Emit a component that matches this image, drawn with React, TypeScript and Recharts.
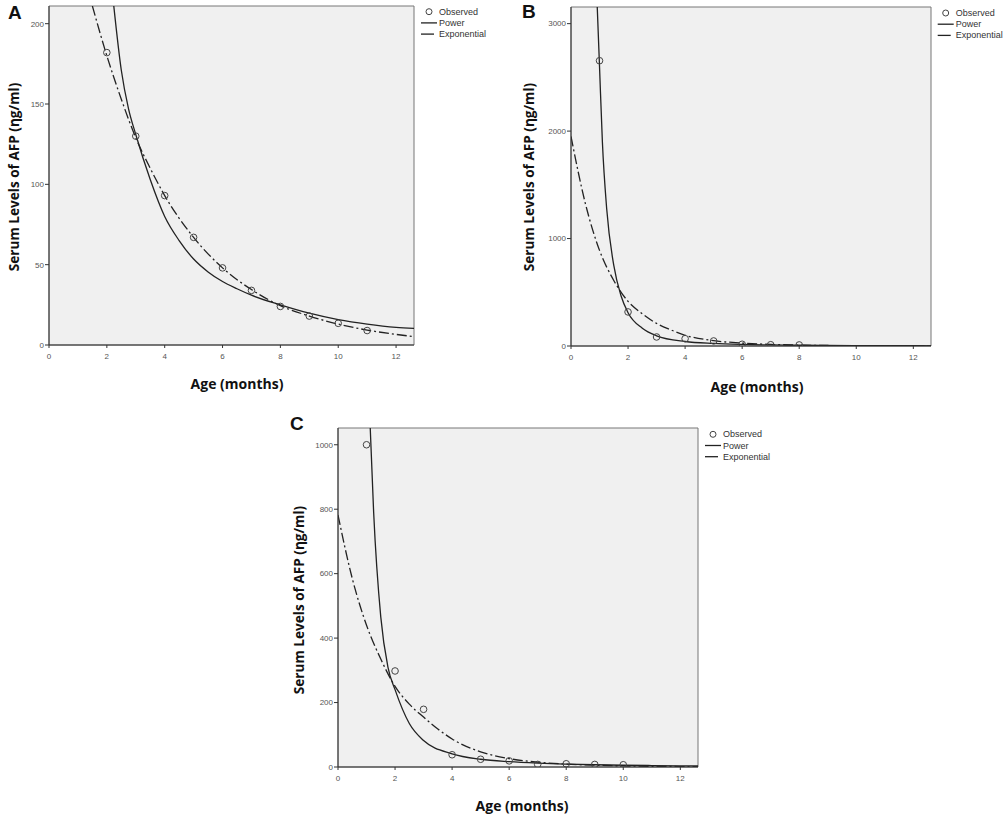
import React from 'react';
import { ComposedChart, Line, Scatter, XAxis, YAxis, CartesianGrid, ReferenceArea } from 'recharts';

// Panel A
const obsAgeA = [2, 3, 4, 5, 6, 7, 8, 9, 10, 11];
const obsAfpA = [182, 130, 93, 67, 48, 34, 24, 18, 13.5, 9];
const powAgeA = [2.24, 2.5, 2.75, 3, 3.5, 4, 4.5, 5, 5.5, 6, 6.5, 7, 8, 9, 10, 11, 12, 12.62];
const powAfpA = [211, 171, 147, 131, 103, 80, 65, 53.5, 45.5, 39.5, 35, 31, 25, 19.8, 15.8, 13, 11, 10.3];
const expAgeA = [1.5, 2, 2.5, 3, 3.5, 4, 5, 6, 7, 8, 9, 10, 11, 12, 12.62];
const expAfpA = [211, 180, 153, 129, 110, 93, 67, 48, 34.5, 24.5, 18, 13, 9.3, 6.6, 5.2];

// Panel B
const obsAgeB = [1, 2, 3, 4, 5, 6, 7, 8];
const obsAfpB = [2655, 317, 84, 68, 47, 16, 12, 10];
const powAgeB = [0.92, 1, 1.1, 1.25, 1.5, 1.75, 2, 2.5, 3, 4, 5, 6, 7, 8, 10, 12, 12.62];
const powAfpB = [3155, 2600, 1900, 1280, 750, 470, 310, 165, 95, 42, 24, 15, 10, 7, 4, 2.5, 2];
const expAgeB = [0, 0.5, 1, 1.5, 2, 2.5, 3, 3.5, 4, 5, 6, 7, 8, 9, 10, 11, 12, 12.62];
const expAfpB = [1950, 1330, 890, 610, 415, 300, 210, 150, 100, 50, 27, 15, 8, 4.5, 2.5, 1.5, 1, 0.7];

// Panel C
const obsAgeC = [1, 2, 3, 4, 5, 6, 7, 8, 9, 10];
const obsAfpC = [1000, 298, 179, 38, 24, 19, 8, 10, 8, 7];
const powAgeC = [1.13, 1.25, 1.5, 1.75, 2, 2.5, 3, 4, 5, 6, 7, 8, 9, 10, 11, 12, 12.62];
const powAfpC = [1052, 790, 465, 310, 240, 135, 82, 41, 24, 16.5, 12, 9, 7, 5.5, 4.5, 3.7, 3.3];
const expAgeC = [0, 0.5, 1, 1.5, 2, 2.5, 3, 3.5, 4, 5, 6, 7, 8, 9, 10, 11, 12, 12.62];
const expAfpC = [782, 585, 440, 335, 250, 195, 155, 118, 87, 47, 26, 15, 9, 5.5, 3.5, 2.2, 1.4, 1.1];

const ageTicks = [0, 2, 4, 6, 8, 10, 12];
const ticksA = [0, 50, 100, 150, 200];
const ticksB = [0, 1000, 2000, 3000];
const ticksC = [0, 200, 400, 600, 800, 1000];

const X_MAX = 12.62;
const tickFont = { fontSize: 8, fill: '#555', fontFamily: 'Liberation Sans, Arial, sans-serif' };
const titleFont = 'Open Sans, sans-serif';

const pts = (xs: number[], ys: number[]) => xs.map((x, i) => ({ x, y: ys[i] }));

const OpenCircle = (props: any) => (
  <circle cx={props.cx} cy={props.cy} r={3.3} fill="none" stroke="#444" strokeWidth={1} />
);

function Panel({ left, top, width, height, margin, yWidth, yMax, yTicks, obs, pow, exp }: any) {
  return (
    <div style={{ position: 'absolute', left, top }}>
      <ComposedChart width={width} height={height} margin={margin}>
        <CartesianGrid horizontal={false} vertical={false} fill="#f0f0f0" />
        <XAxis
          type="number"
          dataKey="x"
          domain={[0, X_MAX]}
          ticks={ageTicks}
          allowDataOverflow
          height={30}
          tickSize={3}
          tickMargin={5}
          tick={tickFont}
          stroke="#333"
        />
        <YAxis
          type="number"
          dataKey="y"
          domain={[0, yMax]}
          ticks={yTicks}
          allowDataOverflow
          width={yWidth}
          tickSize={4}
          tickMargin={1}
          tick={tickFont}
          stroke="#333"
        />
        <ReferenceArea x1={0} x2={X_MAX} y1={0} y2={yMax} fill="none" stroke="#777" strokeWidth={1} />
        <Line data={pow} dataKey="y" type="monotone" dot={false} stroke="#222" strokeWidth={1.3} isAnimationActive={false} />
        <Line data={exp} dataKey="y" type="monotone" dot={false} stroke="#222" strokeWidth={1.3} strokeDasharray="10 3 2 3" isAnimationActive={false} />
        <Scatter data={obs} dataKey="y" shape={OpenCircle} isAnimationActive={false} />
      </ComposedChart>
    </div>
  );
}

function LegendBox({ x, y }: { x: number; y: number }) {
  const row = 11.2;
  const t = { fontSize: 9, fill: '#333', fontFamily: 'Liberation Sans, Arial, sans-serif' };
  return (
    <g>
      <circle cx={x + 8} cy={y} r={3} fill="none" stroke="#444" />
      <text x={x + 18} y={y} dominantBaseline="central" {...t}>Observed</text>
      <line x1={x} x2={x + 16} y1={y + row} y2={y + row} stroke="#222" strokeWidth={1.3} />
      <text x={x + 18} y={y + row} dominantBaseline="central" {...t}>Power</text>
      <line x1={x} x2={x + 13} y1={y + 2 * row} y2={y + 2 * row} stroke="#222" strokeWidth={1.3} />
      <text x={x + 18} y={y + 2 * row} dominantBaseline="central" {...t}>Exponential</text>
    </g>
  );
}

function YTitle({ x, y }: { x: number; y: number }) {
  return (
    <text x={x} y={y} transform={`rotate(-90 ${x} ${y})`} textAnchor="middle" dominantBaseline="central"
      fontFamily={titleFont} fontWeight={700} fontSize={13.6} fill="#111">
      Serum Levels of AFP (ηg/ml)
    </text>
  );
}

function XTitle({ x, y }: { x: number; y: number }) {
  return (
    <text x={x} y={y} textAnchor="middle" dominantBaseline="central"
      fontFamily={titleFont} fontWeight={700} fontSize={14} fill="#111">
      Age (months)
    </text>
  );
}

const letter = { fontFamily: 'Liberation Sans, Arial, sans-serif', fontWeight: 700, fontSize: 19, fill: '#111' };

export default function App() {
  return (
    <div style={{ position: 'absolute', left: 0, top: 0, width: 1007, height: 818, background: '#fff' }}>
      <Panel
        left={0} top={0} width={500} height={375}
        margin={{ top: 6, right: 86, bottom: 0, left: 0 }}
        yWidth={49} yMax={211} yTicks={ticksA}
        obs={pts(obsAgeA, obsAfpA)} pow={pts(powAgeA, powAfpA)} exp={pts(expAgeA, expAfpA)}
      />
      <Panel
        left={500} top={0} width={460} height={376}
        margin={{ top: 7, right: 29, bottom: 0, left: 0 }}
        yWidth={71} yMax={3155} yTicks={ticksB}
        obs={pts(obsAgeB, obsAfpB)} pow={pts(powAgeB, powAfpB)} exp={pts(expAgeB, expAfpB)}
      />
      <Panel
        left={270} top={420} width={440} height={377}
        margin={{ top: 8, right: 12, bottom: 0, left: 0 }}
        yWidth={68} yMax={1052} yTicks={ticksC}
        obs={pts(obsAgeC, obsAfpC)} pow={pts(powAgeC, powAfpC)} exp={pts(expAgeC, expAfpC)}
      />
      <svg width={1007} height={818} style={{ position: 'absolute', left: 0, top: 0, pointerEvents: 'none' }}>
        <text x={8} y={19} {...letter}>A</text>
        <text x={522} y={17.5} {...letter}>B</text>
        <text x={290} y={430} {...letter}>C</text>
        <LegendBox x={421} y={11.7} />
        <LegendBox x={937.7} y={13} />
        <LegendBox x={705} y={434.3} />
        <YTitle x={13} y={177} />
        <YTitle x={528} y={177} />
        <YTitle x={298} y={600} />
        <XTitle x={237} y={383} />
        <XTitle x={757} y={386} />
        <XTitle x={522} y={805} />
      </svg>
    </div>
  );
}
